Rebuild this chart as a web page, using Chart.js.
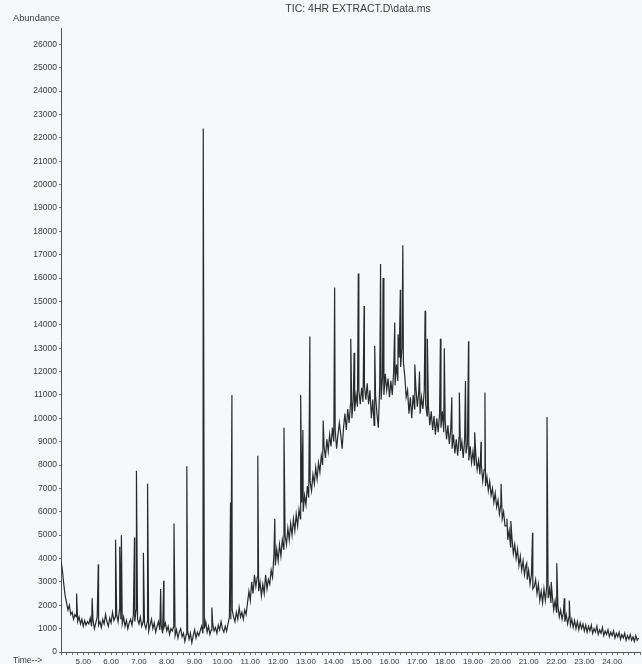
<!DOCTYPE html>
<html>
<head>
<meta charset="utf-8">
<title>TIC: 4HR EXTRACT.D\data.ms</title>
<script src="https://cdn.jsdelivr.net/npm/chart.js@4.4.1/dist/chart.umd.min.js"></script>
<style>
  html, body { margin: 0; padding: 0; background: #f6f8fa; }
  #wrap { width: 642px; height: 664px; }
</style>
</head>
<body>
<div id="wrap"><canvas id="tic" width="642" height="664"></canvas></div>
<script>
// Total ion chromatogram.
const titleText = 'TIC: 4HR EXTRACT.D\\data.ms';

// axis ticks of the print
const abundanceTicks = [0, 1000, 2000, 3000, 4000, 5000, 6000, 7000, 8000, 9000, 10000, 11000, 12000, 13000,
  14000, 15000, 16000, 17000, 18000, 19000, 20000, 21000, 22000, 23000, 24000, 25000, 26000];
const timeLabels = [5, 6, 7, 8, 9, 10, 11, 12, 13, 14, 15, 16, 17, 18, 19, 20, 21, 22, 23, 24];

// scan trace, one row per minute starting at 4.20 min, 0.05 min apart
const scanStart = 4.20;
const scanStep = 0.05;
const ticRows = [
  [3900, 3500, 2900, 2400, 2100, 1800, 2000, 1600, 1700, 1400, 1600, 1500, 1300, 1500, 1200, 1400, 1100, 1350, 1150, 1300],
  [1200, 1450, 1100, 1350, 1000, 1250, 1500, 1150, 1300, 1050, 1400, 1200, 1600, 1300, 1100, 1450, 1250, 1700, 1350, 1500],
  [1600, 1300, 1800, 1400, 1200, 1500, 1100, 1350, 1000, 1250, 1400, 1150, 1600, 1300, 1800, 1400, 1200, 1500, 1100, 1300],
  [1200, 1000, 1300, 900, 1150, 1400, 1000, 1250, 850, 1100, 1300, 950, 1150, 800, 1050, 1250, 900, 1100, 750, 1000],
  [900, 1100, 700, 950, 600, 850, 1000, 650, 800, 450, 750, 900, 550, 800, 400, 700, 950, 600, 850, 700],
  [900, 1100, 800, 1000, 1300, 850, 1100, 750, 950, 1200, 900, 1050, 800, 1150, 950, 1300, 1000, 850, 1100, 900],
  [1200, 1500, 1400, 1800, 1500, 1300, 1700, 1400, 1900, 1500, 1700, 1400, 1800, 1600, 2100, 2600, 2200, 3000, 2500, 3300],
  [2800, 3200, 2600, 3000, 2400, 2900, 2500, 3300, 2700, 3100, 2900, 3500, 3200, 4200, 3700, 4400, 3900, 4600, 4100, 4800],
  [4400, 5000, 4600, 5300, 4800, 5500, 5000, 5700, 5200, 5900, 5400, 6100, 5700, 6400, 6000, 6700, 6300, 7100, 6600, 7300],
  [6900, 7600, 7200, 7900, 7400, 8100, 7700, 8400, 8000, 8800, 8300, 9100, 8600, 9300, 8800, 9600, 9000, 9500, 8700, 9300],
  [9800, 9300, 8700, 9600, 10200, 9500, 10400, 9800, 10600, 10000, 10800, 10300, 11000, 10500, 11200, 10600, 11300, 10700, 11400, 10800],
  [11500, 10600, 11200, 10000, 10800, 9700, 11000, 10200, 9600, 11400, 10800, 11800, 11000, 11900, 11200, 11700, 10900, 11600, 11000, 12000],
  [11400, 12300, 11600, 12600, 12200, 13000, 12400, 11800, 10900, 11200, 10200, 10900, 10000, 11000, 10400, 11300, 10500, 11100, 10200, 10900],
  [10400, 11200, 10600, 10100, 10500, 9700, 10300, 9500, 10100, 9300, 10000, 9400, 10200, 9600, 10300, 9400, 9900, 9100, 9700, 8900],
  [9500, 8700, 9300, 8500, 9100, 8400, 9200, 8600, 9000, 8300, 9100, 8500, 8900, 8200, 8800, 8100, 8600, 8000, 8500, 7800],
  [8200, 7600, 8000, 7300, 7800, 7100, 7500, 6900, 7300, 6700, 7000, 6400, 6800, 6200, 6500, 5900, 6300, 5700, 6000, 5400],
  [5400, 4800, 5200, 4500, 4900, 4200, 4600, 4000, 4400, 3700, 4100, 3500, 3900, 3300, 3700, 3100, 3500, 2900, 3300, 2700],
  [2800, 3100, 2500, 2900, 2200, 2600, 2100, 2700, 2200, 2800, 2300, 2700, 2100, 2400, 1800, 2200, 1700, 2000, 1500, 1800],
  [1400, 1700, 1300, 1600, 1200, 1500, 1150, 1400, 1050, 1350, 1000, 1300, 950, 1250, 1000, 1200, 900, 1150, 850, 1100],
  [900, 1150, 800, 1000, 850, 1100, 750, 950, 800, 1050, 700, 900, 750, 950, 650, 850, 700, 900, 600, 800],
  [650, 850, 550, 750, 600, 800, 500, 700, 550, 750, 500, 650, 450, 700, 500, 600]
];

// sharp peaks sitting on the trace
const peakTimes = [
  4.76, 5.32, 5.54, 6.16, 6.31, 6.37, 6.84, 6.91, 7.16, 7.31,
  7.78, 7.89, 8.26, 8.72, 9.31, 9.62, 10.29, 10.34, 11.27, 11.88,
  12.21, 12.81, 12.89, 13.14, 13.62, 14.03, 14.61, 14.73, 14.88, 15.09,
  15.47, 15.68, 15.77, 16.19, 16.31, 16.39, 16.48, 16.91, 17.08, 17.28,
  17.36, 17.83, 17.97, 18.24, 18.51, 18.73, 18.84, 19.06, 19.29, 19.43,
  20.01, 20.22, 20.36, 20.93, 21.14, 21.66, 21.81, 22.01, 22.28, 22.46
];
const peakHeights = [
  2500, 2300, 3750, 4800, 4500, 5000, 4900, 7750, 4250, 7200,
  2700, 3050, 5500, 7950, 22400, 1900, 6400, 11000, 8400, 5700,
  9600, 11000, 9500, 13500, 9900, 15600, 13400, 12800, 16200, 14800,
  13100, 16600, 16000, 14100, 13600, 15500, 17400, 12300, 12000, 14600,
  13400, 13400, 13000, 10900, 11100, 11600, 13300, 9400, 9000, 11100,
  7200, 5700, 5600, 3800, 5100, 10050, 3000, 3800, 2300, 2200
];

// build the point list for the line
const points = [];
ticRows.forEach((row, r) => {
  row.forEach((v, c) => {
    points.push({ x: +(scanStart + r + c * scanStep).toFixed(2), y: v });
  });
});
peakTimes.forEach((t, i) => points.push({ x: t, y: peakHeights[i] }));
points.sort((a, b) => a.x - b.x);

const textFont = '"Liberation Sans", Arial, sans-serif';

// title and the two axis captions of the print
const captions = {
  id: 'captions',
  afterDraw(chart) {
    const c = chart.ctx;
    c.save();
    c.fillStyle = '#3a3a3a';
    c.textBaseline = 'middle';
    c.font = '10.5px ' + textFont;
    c.textAlign = 'center';
    c.fillText(titleText, 358, 9);
    c.font = '9.3px ' + textFont;
    c.textAlign = 'left';
    c.fillText('Abundance', 13, 18);
    c.font = '8.5px ' + textFont;
    c.fillText('Time-->', 13, 661);
    c.restore();
  }
};

const ctx = document.getElementById('tic').getContext('2d');
new Chart(ctx, {
  type: 'line',
  data: {
    datasets: [{
      data: points,
      borderColor: '#2a2a2a',
      borderWidth: 1.2,
      pointRadius: 0,
      tension: 0,
      fill: false
    }]
  },
  options: {
    responsive: false,
    animation: false,
    parsing: false,
    layout: { padding: { top: 28, right: 1, left: 0, bottom: 0 } },
    plugins: {
      legend: { display: false },
      tooltip: { enabled: false },
      title: { display: false }
    },
    scales: {
      x: {
        type: 'linear',
        min: 4.2,
        max: 25.0,
        border: { display: true, color: '#555', width: 1 },
        grid: { drawOnChartArea: false, drawTicks: true, tickLength: 3, color: '#777' },
        ticks: {
          stepSize: 0.2,
          autoSkip: false,
          maxRotation: 0,
          padding: 2,
          color: '#3a3a3a',
          font: { family: textFont, size: 8 },
          callback: (v) => {
            const m = Math.round(v);
            return Math.abs(v - m) < 1e-6 && timeLabels.includes(m) ? m.toFixed(2) : '';
          }
        },
        afterFit: (scale) => { scale.height = 12; }
      },
      y: {
        min: 0,
        max: 26700,
        border: { display: true, color: '#555', width: 1 },
        grid: { drawOnChartArea: false, drawTicks: true, tickLength: 2, color: '#777' },
        ticks: {
          autoSkip: false,
          padding: 2,
          color: '#3a3a3a',
          font: { family: textFont, size: 8.5 },
          callback: (v) => String(v)
        },
        afterBuildTicks: (scale) => {
          scale.ticks = abundanceTicks.map(v => ({ value: v }));
        },
        afterFit: (scale) => { scale.width = 61; }
      }
    }
  },
  plugins: [captions]
});
</script>
</body>
</html>
